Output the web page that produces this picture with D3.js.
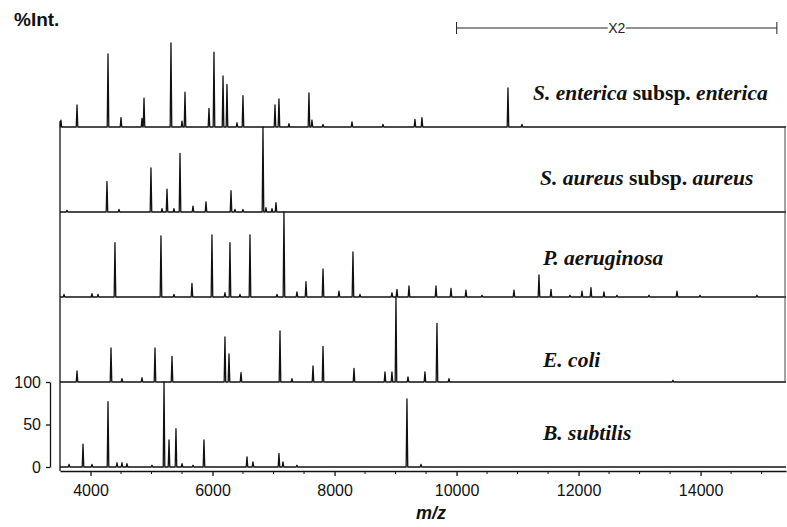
<!DOCTYPE html>
<html><head><meta charset="utf-8">
<script src="https://cdn.jsdelivr.net/npm/d3@7"></script>
<style>body{margin:0;background:#fff}</style></head>
<body><svg id="c" width="787" height="527"></svg>
<script>
// ---- data (m/z, % intensity as displayed) ----
const speciesLabels = [
  [["S. enterica", true], [" subsp. ", false], ["enterica", true]],
  [["S. aureus", true], [" subsp. ", false], ["aureus", true]],
  [["P. aeruginosa", true]],
  [["E. coli", true]],
  [["B. subtilis", true]]
];
const entericaPeaks = [[3515,8],[3779,26],[4287,86],[4500,11],[4844,10],[4877,34],[5319,99],[5500,7],[5549,41],[5942,22],[6024,88],[6172,60],[6237,50],[6401,5],[6499,37],[7024,26],[7089,33],[7253,4],[7581,40],[7630,8],[7811,3],[8286,6],[8794,3],[9318,9],[9433,11],[10843,46],[11072,3]];
const aureusPeaks = [[3615,2],[4270,36],[4467,3],[4991,52],[5172,4],[5254,27],[5368,4],[5467,69],[5680,7],[5893,12],[6303,25],[6368,3],[6499,3],[6827,100],[6876,5],[6975,4],[7040,11]];
const aeruginosaPeaks = [[3566,3],[4024,4],[4123,3],[4401,64],[5155,72],[5368,3],[5663,16],[5991,73],[6204,5],[6286,64],[6450,3],[6614,73],[7057,3],[7171,100],[7384,6],[7532,18],[7811,33],[8073,7],[8302,53],[8417,3],[8941,5],[9023,9],[9220,13],[9663,13],[9909,10],[10154,8],[10417,2],[10941,8],[11351,26],[11548,9],[11859,2],[12056,7],[12203,11],[12416,6],[12629,2],[13154,2],[13613,7],[13990,2],[14924,2]];
const coliPeaks = [[3779,13],[4336,40],[4516,4],[4844,5],[5057,40],[5336,30],[6204,53],[6270,33],[6467,11],[7106,60],[7302,4],[7647,19],[7811,42],[8319,16],[8827,12],[8941,12],[9007,100],[9204,6],[9482,12],[9679,69],[9876,4],[13547,2]];
const subtilisPeaks = [[3648,3],[3877,27],[4024,3],[4287,77],[4434,5],[4516,5],[4598,4],[5008,2],[5205,100],[5287,32],[5401,45],[5500,4],[5680,2],[5860,32],[6565,12],[6663,6],[7089,16],[7155,6],[7384,2],[9187,80],[9417,3]];
const spectra = [entericaPeaks, aureusPeaks, aeruginosaPeaks, coliPeaks, subtilisPeaks];
const xTicks = [4000, 6000, 8000, 10000, 12000, 14000];
const yTicks = [0, 50, 100];
const magnifyRange = [10000, 15250];
const magnifyLabel = "X2";

// ---- layout ----
const svg = d3.select("#c");
const sans = "'Liberation Sans', Arial, sans-serif";
const serif = "'Liberation Serif', 'Times New Roman', serif";
const x = d3.scaleLinear().domain([3500, 15400]).range([60, 786]);
const baseY = d3.scaleLinear().domain([0, 4]).range([127, 467]);
const panelH = 85;
const labelPos = [[533, -27], [540, -27], [543, -32], [543, -15], [543, -27]];
const halfW = 13;

spectra.forEach((peaks, i) => {
  const b = baseY(i);
  const y = d3.scaleLinear().domain([0, 100]).range([b, b - panelH]);
  const pts = [[x.domain()[0], 0]];
  peaks.slice().sort((a, c) => a[0] - c[0]).forEach(([m, v]) => {
    pts.push([m - halfW, 0], [m, v], [m + halfW, 0]);
  });
  pts.push([x.domain()[1], 0]);
  const line = d3.line().x(d => x(d[0])).y(d => y(d[1]));
  svg.append("path").attr("d", line(pts))
    .attr("fill", "none").attr("stroke", "#111").attr("stroke-width", 1.3)
    .attr("stroke-linejoin", "round");
  // label
  const t = svg.append("text").attr("x", labelPos[i][0]).attr("y", b + labelPos[i][1])
    .attr("font-family", serif).attr("font-size", 21.5).attr("font-weight", "bold").attr("fill", "#111");
  speciesLabels[i].forEach(([s, it]) => {
    t.append("tspan").attr("font-style", it ? "italic" : "normal").attr("xml:space", "preserve").text(s);
  });
});

// panel borders
svg.append("line").attr("x1", 60).attr("x2", 60).attr("y1", baseY(0) - 6).attr("y2", 471)
  .attr("stroke", "#111").attr("stroke-width", 1.3);
svg.append("line").attr("x1", 785).attr("x2", 785).attr("y1", baseY(0)).attr("y2", baseY(3))
  .attr("stroke", "#444").attr("stroke-width", 1);

// x axis
const axY = 471;
const xAxis = svg.append("g").attr("transform", `translate(0,${axY})`)
  .call(d3.axisBottom(x).tickValues(xTicks).tickSize(5).tickSizeOuter(0).tickFormat(d3.format("d")));
xAxis.select(".domain").attr("stroke", "#111").attr("stroke-width", 1.3);
xAxis.selectAll(".tick line").attr("stroke", "#111").attr("stroke-width", 1.3);
xAxis.selectAll(".tick text").attr("font-family", sans).attr("font-size", 16).attr("fill", "#111").attr("dy", "1.05em");
const minor = d3.range(4000, 15400, 500).filter(v => !xTicks.includes(v));
svg.append("g").selectAll("line").data(minor).join("line")
  .attr("x1", d => x(d)).attr("x2", d => x(d)).attr("y1", axY).attr("y2", axY + 3)
  .attr("stroke", "#111").attr("stroke-width", 1);

// y axis (bottom panel)
const yB = d3.scaleLinear().domain([0, 100]).range([baseY(4), baseY(4) - panelH]);
const yAxis = svg.append("g").attr("transform", "translate(50,0)")
  .call(d3.axisLeft(yB).tickValues(yTicks).tickSize(4).tickSizeOuter(0));
yAxis.select(".domain").attr("stroke", "#111").attr("stroke-width", 1.3);
yAxis.selectAll(".tick line").attr("stroke", "#111").attr("stroke-width", 1.3);
yAxis.selectAll(".tick text").attr("font-family", sans).attr("font-size", 16).attr("fill", "#111").attr("x", -9);

// titles
svg.append("text").attr("x", 14).attr("y", 26).attr("font-family", sans).attr("font-size", 19)
  .attr("font-weight", "bold").attr("fill", "#111").text("%Int.");
svg.append("text").attr("x", 431).attr("y", 519).attr("text-anchor", "middle").attr("font-family", sans)
  .attr("font-size", 18).attr("font-weight", "bold").attr("font-style", "italic").attr("fill", "#111").text("m/z");

// magnification bracket
const bx0 = x(magnifyRange[0]), bx1 = x(magnifyRange[1]), by = 28;
const bg = svg.append("g").attr("stroke", "#222").attr("stroke-width", 1);
bg.append("line").attr("x1", bx0).attr("x2", bx1).attr("y1", by).attr("y2", by);
bg.append("line").attr("x1", bx0).attr("x2", bx0).attr("y1", by - 6).attr("y2", by + 6);
bg.append("line").attr("x1", bx1).attr("x2", bx1).attr("y1", by - 6).attr("y2", by + 6);
const mid = (bx0 + bx1) / 2;
svg.append("rect").attr("x", mid - 9).attr("y", by - 7).attr("width", 18).attr("height", 14).attr("fill", "#fff");
svg.append("text").attr("x", mid).attr("y", by + 5).attr("text-anchor", "middle").attr("font-family", sans)
  .attr("font-size", 14).attr("fill", "#222").text(magnifyLabel);
</script></body></html>
